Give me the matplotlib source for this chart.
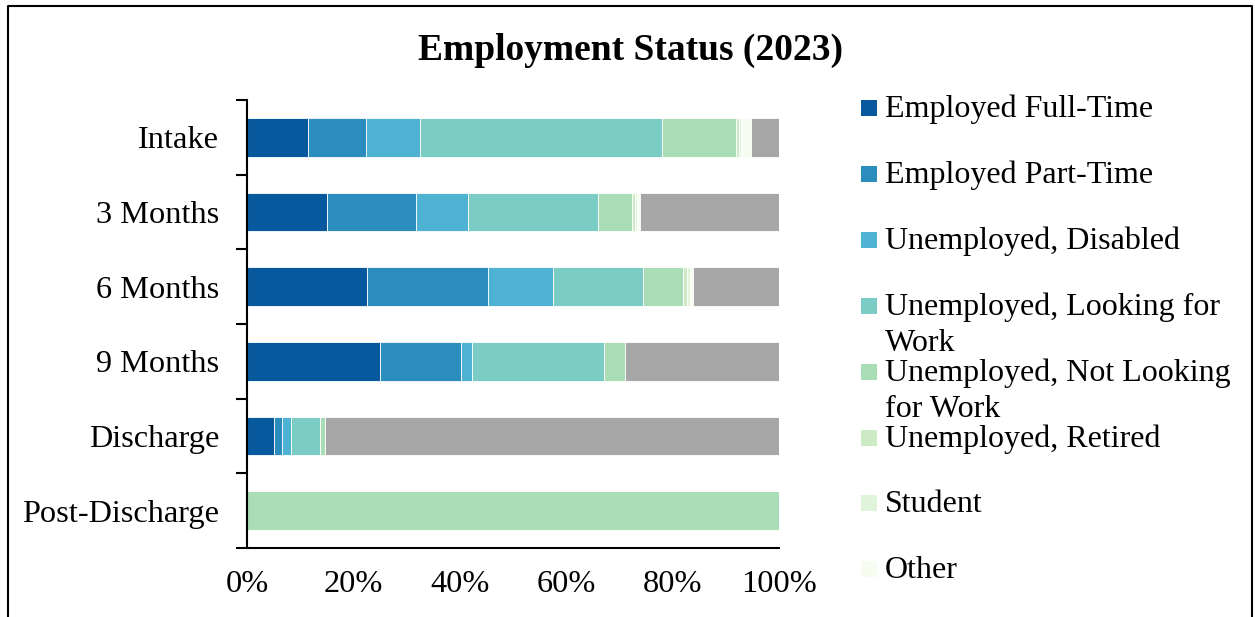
import numpy as np
import matplotlib.pyplot as plt
from matplotlib.patches import Rectangle

plt.rcParams['font.family'] = ['Liberation Serif', 'DejaVu Serif']

# Data (percent of each period)
periods = ["Intake", "3 Months", "6 Months", "9 Months", "Discharge", "Post-Discharge"]
series_names = ["Employed Full-Time", "Employed Part-Time", "Unemployed, Disabled",
                "Unemployed, Looking for\nWork", "Unemployed, Not Looking\nfor Work",
                "Unemployed, Retired", "Student", "Other"]
full_time = [11.4, 15.1, 22.6, 25.0, 5.0, 0]
part_time = [11.0, 16.7, 22.7, 15.3, 1.5, 0]
disabled = [10.2, 9.7, 12.2, 2.0, 1.8, 0]
looking = [45.4, 24.5, 16.9, 24.8, 5.4, 0]
not_looking = [13.9, 6.4, 7.5, 4.0, 0.9, 100]
retired = [0.6, 0.5, 0.9, 0, 0, 0]
student = [0.4, 0.4, 0.4, 0, 0, 0]
other = [1.9, 0.6, 0.6, 0, 0, 0]
unknown = [5.2, 26.1, 16.2, 28.9, 85.4, 0]

colors = ["#08589e", "#2b8cbe", "#4eb3d3", "#7bccc4", "#a8ddb5",
          "#ccebc5", "#e0f3db", "#f7fcf0"]
gray = "#a6a6a6"

W, H = 1255, 617
fig = plt.figure(figsize=(W / 100, H / 100), dpi=100)
ax = fig.add_axes([247 / W, 1 - 548 / H, (779 - 247) / W, (548 - 100) / H])

y = np.arange(len(periods))
left = np.zeros(len(periods))
all_series = [full_time, part_time, disabled, looking, not_looking, retired, student, other, unknown]
all_colors = colors + [gray]
for vals, c in zip(all_series, all_colors):
    vals = np.array(vals, dtype=float)
    ax.barh(y, vals, left=left, height=0.52, color=c, edgecolor="white", linewidth=0.6)
    left += vals

ax.set_ylim(len(periods) - 0.5, -0.5)
ax.set_xlim(0, 100)
ax.set_yticks(y)
ax.set_yticklabels(periods, fontsize=23.3)
ax.set_yticks(np.arange(-0.5, len(periods), 1), minor=True)
ax.tick_params(axis="y", which="major", length=0, pad=20)
ax.tick_params(axis="y", which="minor", length=8, width=1.5, direction="out")
ax.set_xticks(np.arange(0, 101, 20))
ax.set_xticklabels([f"{v}%" for v in range(0, 101, 20)], fontsize=23.3)
ax.tick_params(axis="x", length=0, pad=16)
for s in ["top", "right"]:
    ax.spines[s].set_visible(False)
ax.spines["left"].set_linewidth(1.5)
ax.spines["bottom"].set_linewidth(1.5)

fig.text(631 / W, 1 - 50 / H, "Employment Status (2023)", fontsize=27,
         fontweight="bold", ha="center", va="center")

# legend drawn by hand to match fixed slot spacing
for i, (name, c) in enumerate(zip(series_names, colors)):
    base = 117 + 65.9 * i
    fig.add_artist(Rectangle((861 / W, 1 - (base - 1) / H), 16 / W, 16 / H,
                             facecolor=c, edgecolor="none", transform=fig.transFigure))
    for j, line in enumerate(name.split("\n")):
        fig.text(885 / W, 1 - (base + 36.5 * j) / H, line, fontsize=23,
                 ha="left", va="baseline")

# outer frame
fig.add_artist(plt.Line2D([8 / W, 8 / W, 1252 / W, 1252 / W], [0, 1 - 6 / H, 1 - 6 / H, 0],
                          color="black", linewidth=1.5, transform=fig.transFigure))

fig.savefig("out.png", dpi=100)
